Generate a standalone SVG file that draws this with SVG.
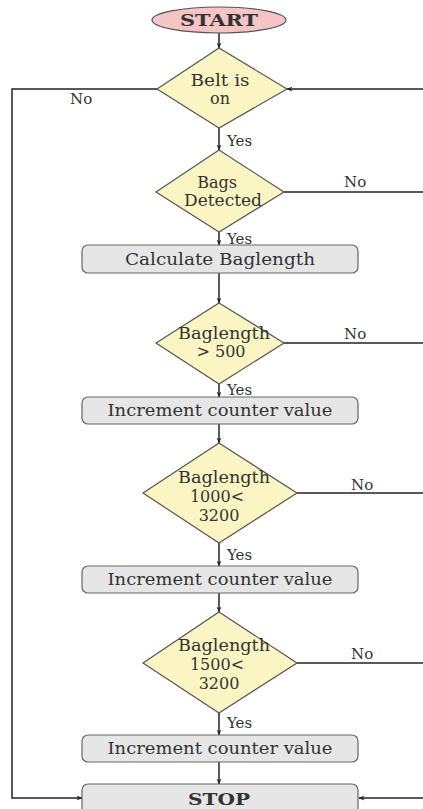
<svg xmlns="http://www.w3.org/2000/svg" width="423" height="809" viewBox="0 0 423 809">
<style>
text{font-family:"DejaVu Serif","Liberation Serif",serif;fill:#333;font-size:16px;text-anchor:middle}
.b{font-weight:bold}
.dia{fill:#fbf5c3;stroke:#555;stroke-width:1.2}
.box{fill:#e6e6e6;stroke:#666;stroke-width:1.2}
.ell{fill:#f6c4c4;stroke:#555;stroke-width:1.2}
.c{fill:none;stroke:#222;stroke-width:1.5}
.lbl{text-anchor:start;font-size:15px}
</style>
<defs>
<marker id="ah" viewBox="0 0 10 10" refX="9" refY="5" markerWidth="6" markerHeight="6" orient="auto" markerUnits="userSpaceOnUse">
<path d="M0,1 L10,5 L0,9 L3,5 Z" fill="#222"/>
</marker>
</defs>
<rect width="423" height="809" fill="#fff"/>
<g id="connectors">
<path class="c" d="M219,33 V48" marker-end="url(#ah)"/>
<path class="c" d="M219,128 V150" marker-end="url(#ah)"/>
<path class="c" d="M219,232 V245" marker-end="url(#ah)"/>
<path class="c" d="M219,273 V303" marker-end="url(#ah)"/>
<path class="c" d="M219,384 V397" marker-end="url(#ah)"/>
<path class="c" d="M219,424 V443" marker-end="url(#ah)"/>
<path class="c" d="M219,543 V566" marker-end="url(#ah)"/>
<path class="c" d="M219,593 V612" marker-end="url(#ah)"/>
<path class="c" d="M219,713 V735" marker-end="url(#ah)"/>
<path class="c" d="M219,762 V784" marker-end="url(#ah)"/>
<path class="c" d="M157,89 H12 V798 H82" marker-end="url(#ah)"/>
<path class="c" d="M284,192 H423"/>
<path class="c" d="M284,343 H423"/>
<path class="c" d="M297,493 H423"/>
<path class="c" d="M297,663 H423"/>
<path class="c" d="M423,89 H287" marker-end="url(#ah)"/>
<path class="c" d="M423,798 H359" marker-end="url(#ah)"/>
<text class="lbl" x="70" y="104">No</text>
<text class="lbl" x="227" y="146">Yes</text>
<text class="lbl" x="344" y="187">No</text>
<text class="lbl" x="227" y="244">Yes</text>
<text class="lbl" x="344" y="339">No</text>
<text class="lbl" x="227" y="395">Yes</text>
<text class="lbl" x="351" y="490">No</text>
<text class="lbl" x="227" y="560">Yes</text>
<text class="lbl" x="351" y="659">No</text>
<text class="lbl" x="227" y="728">Yes</text>
</g>
<g id="start">
<ellipse class="ell" cx="219" cy="20" rx="67" ry="13"/>
<text class="b" x="219" y="26" textLength="78" lengthAdjust="spacingAndGlyphs">START</text>
</g>
<g id="belt">
<polygon class="dia" points="219,48 287,89 219,128 157,89"/>
<text x="220" y="86" textLength="59" lengthAdjust="spacingAndGlyphs">Belt is</text>
<text x="220" y="104">on</text>
</g>
<g id="bags">
<polygon class="dia" points="219,150 284,192 219,232 156,192"/>
<text x="217" y="188">Bags</text>
<text x="223" y="206" textLength="78" lengthAdjust="spacingAndGlyphs">Detected</text>
</g>
<g id="calc">
<rect class="box" x="82" y="245" width="276" height="28" rx="6"/>
<text x="220" y="265" textLength="190" lengthAdjust="spacingAndGlyphs">Calculate Baglength</text>
</g>
<g id="d500">
<polygon class="dia" points="219,303 284,343 219,384 156,343"/>
<text x="224" y="339" textLength="92" lengthAdjust="spacingAndGlyphs">Baglength</text>
<text x="221" y="357">&gt; 500</text>
</g>
<g id="inc1">
<rect class="box" x="82" y="397" width="276" height="27" rx="6"/>
<text x="220" y="416" textLength="225" lengthAdjust="spacingAndGlyphs">Increment counter value</text>
</g>
<g id="d1000">
<polygon class="dia" points="219,443 297,493 219,543 143,493"/>
<text x="224" y="483" textLength="92" lengthAdjust="spacingAndGlyphs">Baglength</text>
<text x="217" y="502">1000&lt;</text>
<text x="219" y="521">3200</text>
</g>
<g id="inc2">
<rect class="box" x="82" y="566" width="276" height="27" rx="6"/>
<text x="220" y="585" textLength="225" lengthAdjust="spacingAndGlyphs">Increment counter value</text>
</g>
<g id="d1500">
<polygon class="dia" points="219,612 297,663 219,713 143,663"/>
<text x="224" y="651" textLength="92" lengthAdjust="spacingAndGlyphs">Baglength</text>
<text x="217" y="670">1500&lt;</text>
<text x="219" y="689">3200</text>
</g>
<g id="inc3">
<rect class="box" x="82" y="735" width="276" height="27" rx="6"/>
<text x="220" y="754" textLength="225" lengthAdjust="spacingAndGlyphs">Increment counter value</text>
</g>
<g id="stop">
<rect class="box" x="82" y="784" width="276" height="30" rx="6"/>
<text class="b" x="219" y="805" textLength="62" lengthAdjust="spacingAndGlyphs">STOP</text>
</g>
</svg>
